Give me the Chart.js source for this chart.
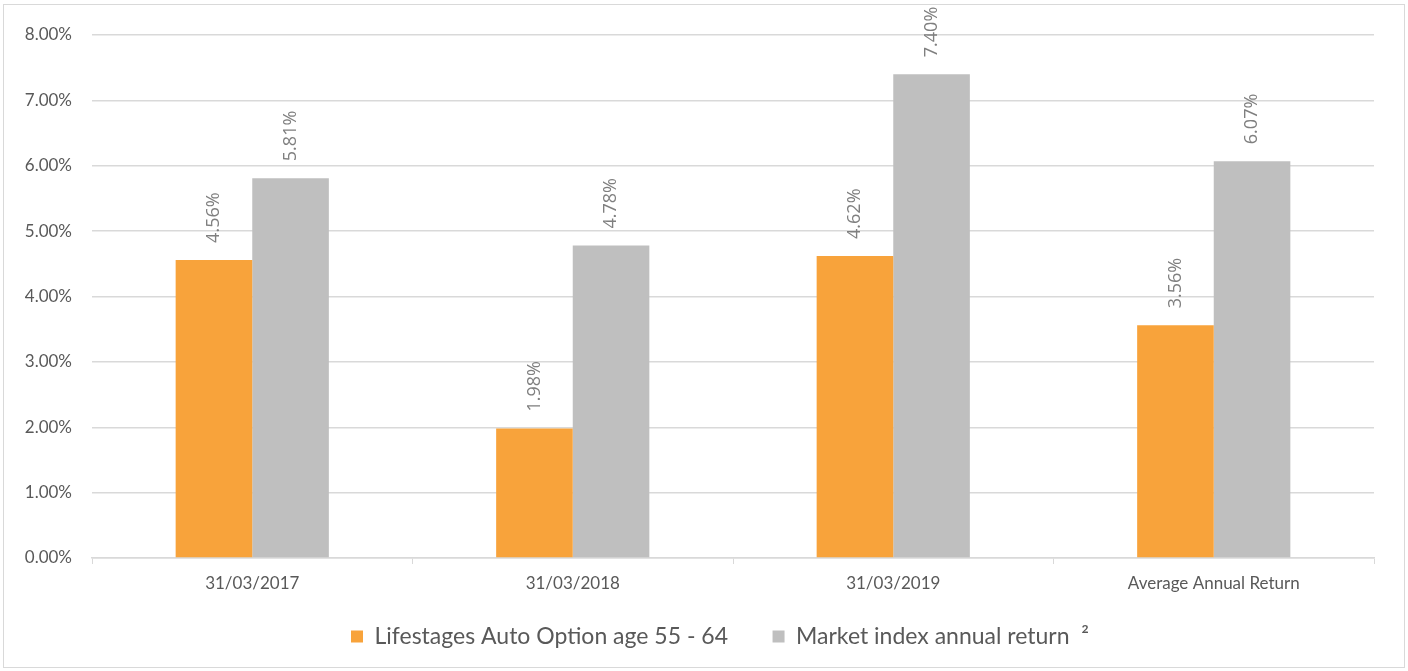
<!DOCTYPE html>
<html>
<head>
<meta charset="utf-8">
<script src="https://cdn.jsdelivr.net/npm/chart.js@4/dist/chart.umd.min.js"></script>
<style>
  html, body { margin: 0; padding: 0; background: #fff; }
  #wrap { position: relative; width: 1408px; height: 671px; }
  #frame { position: absolute; left: 3px; top: 4px; width: 1400px; height: 662px; border: 1.5px solid #d9d9d9; pointer-events: none; }
  canvas { position: absolute; left: 0; top: 0; }
</style>
</head>
<body>
<div id="wrap">
  <canvas id="chart"></canvas>
  <div id="frame"></div>
</div>
<script>
// --- data ---
const categories = ['31/03/2017', '31/03/2018', '31/03/2019', 'Average Annual Return'];
const lifestages = [4.56, 1.98, 4.62, 3.56];
const marketIndex = [5.81, 4.78, 7.40, 6.07];
// em spaces after the first name widen the gap between the two legend items
const seriesNames = ['Lifestages Auto Option age 55 - 64\u2003\u2003', 'Market index annual return  \u00b2'];
const yTicks = [0, 1, 2, 3, 4, 5, 6, 7, 8];

const axisFont = 'Lato, "Open Sans", sans-serif';
const labelFont = '"Open Sans", Lato, sans-serif';
const textColor = '#595959';
const gridColor = '#d9d9d9';

// rotated value labels over each bar
const barLabels = {
    id: 'barLabels',
    afterDatasetsDraw(chart) {
        const ctx = chart.ctx;
        ctx.save();
        ctx.fillStyle = '#7f7f7f';
        ctx.font = '18px ' + labelFont;
        ctx.textAlign = 'left';
        ctx.textBaseline = 'middle';
        chart.data.datasets.forEach((ds, i) => {
            chart.getDatasetMeta(i).data.forEach((bar, j) => {
                ctx.save();
                ctx.translate(bar.x, bar.y - 17);
                ctx.rotate(-Math.PI / 2);
                ctx.fillText(ds.data[j].toFixed(2) + '%', 0, 0);
                ctx.restore();
            });
        });
        ctx.restore();
    }
};

new Chart(document.getElementById('chart'), {
    type: 'bar',
    data: {
        labels: categories,
        datasets: [
            {
                label: seriesNames[0],
                data: lifestages,
                backgroundColor: '#f8a33b',
                borderWidth: 0,
                categoryPercentage: 0.478,
                barPercentage: 1.0
            },
            {
                label: seriesNames[1],
                data: marketIndex,
                backgroundColor: '#bfbfbf',
                borderWidth: 0,
                categoryPercentage: 0.478,
                barPercentage: 1.0
            }
        ]
    },
    options: {
        responsive: true,
        maintainAspectRatio: false,
        animation: false,
        // negative right padding + wide gutter pushes the legend centre right, like the reference
        layout: { padding: { top: 35, right: -32, bottom: 13, left: 0 } },
        plugins: {
            legend: {
                position: 'bottom',
                labels: {
                    color: textColor,
                    font: { family: axisFont, size: 23 },
                    boxWidth: 12,
                    boxHeight: 12,
                    padding: 10
                }
            },
            tooltip: { enabled: false }
        },
        scales: {
            x: {
                grid: { drawOnChartArea: false, drawTicks: true, tickLength: 6, color: gridColor, offset: true },
                border: { display: true, color: gridColor, width: 1.5 },
                ticks: { color: textColor, font: { family: axisFont, size: 17 }, padding: 9 },
                afterFit(scale) { scale.height = 57; }
            },
            y: {
                min: 0,
                max: 8,
                afterBuildTicks(scale) { scale.ticks = yTicks.map(v => ({ value: v })); },
                grid: { color: gridColor, lineWidth: 1.5, drawTicks: false },
                border: { display: false },
                ticks: {
                    color: textColor,
                    font: { family: axisFont, size: 17 },
                    padding: 20,
                    callback: v => v.toFixed(2) + '%'
                },
                afterFit(scale) { scale.width = 92; }
            },
            gutter: {
                position: 'right',
                min: 0,
                max: 8,
                grid: { drawOnChartArea: false, drawTicks: false },
                border: { display: false },
                ticks: { display: false },
                afterFit(scale) { scale.width = 66; }
            }
        }
    },
    plugins: [barLabels]
});
</script>
</body>
</html>
